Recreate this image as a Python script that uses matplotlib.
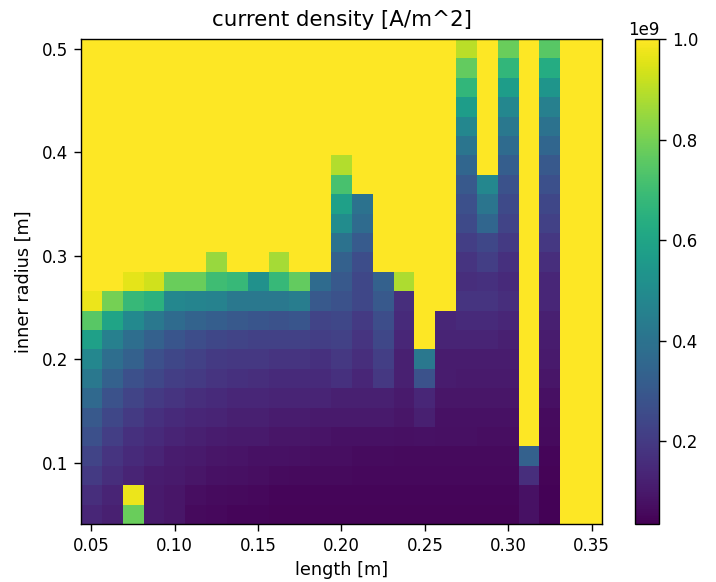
"""Current density over length and inner radius, drawn as a clipped heat map."""
import matplotlib
matplotlib.use("Agg")
import matplotlib.pyplot as plt
import numpy as np

Y = 1.0  # saturated cells

# one x per column, one y per row (top row first in density_rows)
lengths = [0.05 + 0.0125 * i for i in range(25)]
radii = [0.5 - 0.01875 * i for i in range(25)]

density_rows = [
    [Y, Y, Y, Y, Y, Y, Y, Y, Y, Y, Y, Y, Y, Y, Y, Y, Y, Y, .90, Y, .78, Y, .75, Y, Y],
    [Y, Y, Y, Y, Y, Y, Y, Y, Y, Y, Y, Y, Y, Y, Y, Y, Y, Y, .77, Y, .67, Y, .63, Y, Y],
    [Y, Y, Y, Y, Y, Y, Y, Y, Y, Y, Y, Y, Y, Y, Y, Y, Y, Y, .67, Y, .57, Y, .54, Y, Y],
    [Y, Y, Y, Y, Y, Y, Y, Y, Y, Y, Y, Y, Y, Y, Y, Y, Y, Y, .57, Y, .48, Y, .45, Y, Y],
    [Y, Y, Y, Y, Y, Y, Y, Y, Y, Y, Y, Y, Y, Y, Y, Y, Y, Y, .48, Y, .42, Y, .40, Y, Y],
    [Y, Y, Y, Y, Y, Y, Y, Y, Y, Y, Y, Y, Y, Y, Y, Y, Y, Y, .41, Y, .37, Y, .35, Y, Y],
    [Y, Y, Y, Y, Y, Y, Y, Y, Y, Y, Y, Y, .89, Y, Y, Y, Y, Y, .35, Y, .32, Y, .30, Y, Y],
    [Y, Y, Y, Y, Y, Y, Y, Y, Y, Y, Y, Y, .72, Y, Y, Y, Y, Y, .30, .48, .28, Y, .27, Y, Y],
    [Y, Y, Y, Y, Y, Y, Y, Y, Y, Y, Y, Y, .58, .40, Y, Y, Y, Y, .27, .41, .25, Y, .24, Y, Y],
    [Y, Y, Y, Y, Y, Y, Y, Y, Y, Y, Y, Y, .50, .37, Y, Y, Y, Y, .25, .35, .23, Y, .22, Y, Y],
    [Y, Y, Y, Y, Y, Y, Y, Y, Y, Y, Y, Y, .40, .31, Y, Y, Y, Y, .21, .24, .20, Y, .19, Y, Y],
    [Y, Y, Y, Y, Y, Y, .85, Y, Y, .87, Y, Y, .33, .26, Y, Y, Y, Y, .18, .21, .17, Y, .16, Y, Y],
    [Y, Y, .96, .93, .78, .78, .70, .68, .52, .68, .77, .37, .30, .24, .33, .88, Y, Y, .16, .17, .15, Y, .14, Y, Y],
    [.97, .80, .68, .65, .48, .47, .46, .42, .42, .42, .44, .30, .28, .24, .30, .16, Y, Y, .18, .18, .16, Y, .14, Y, Y],
    [.75, .60, .49, .42, .37, .34, .32, .30, .29, .28, .29, .23, .24, .20, .26, .15, Y, .14, .15, .15, .14, Y, .12, Y, Y],
    [.58, .45, .38, .33, .29, .26, .24, .23, .22, .22, .22, .21, .22, .18, .24, .14, Y, .13, .13, .13, .12, Y, .11, Y, Y],
    [.48, .38, .33, .27, .24, .22, .20, .19, .19, .18, .18, .17, .19, .16, .21, .12, .42, .11, .11, .11, .11, Y, .10, Y, Y],
    [.42, .33, .27, .24, .21, .20, .18, .17, .16, .15, .15, .15, .17, .14, .19, .12, .28, .11, .10, .10, .10, Y, .09, Y, Y],
    [.36, .28, .23, .20, .18, .16, .15, .14, .14, .13, .13, .13, .12, .12, .12, .10, .14, .09, .09, .09, .09, Y, .075, Y, Y],
    [.30, .24, .20, .17, .15, .14, .13, .12, .12, .11, .11, .10, .10, .10, .10, .09, .12, .08, .08, .08, .08, Y, .065, Y, Y],
    [.27, .21, .17, .15, .13, .12, .11, .10, .10, .09, .09, .085, .08, .08, .08, .075, .08, .075, .075, .07, .07, Y, .06, Y, Y],
    [.23, .18, .15, .13, .11, .10, .09, .085, .08, .08, .075, .07, .07, .065, .065, .06, .06, .06, .06, .06, .06, .33, .05, Y, Y],
    [.20, .16, .13, .11, .10, .09, .08, .075, .07, .065, .06, .06, .06, .055, .055, .055, .055, .055, .055, .055, .055, .16, .045, Y, Y],
    [.16, .13, .97, .10, .09, .07, .065, .06, .055, .05, .05, .05, .05, .05, .05, .05, .05, .05, .05, .05, .05, .08, .04, Y, Y],
    [.14, .12, .78, .10, .09, .06, .055, .05, .05, .045, .045, .045, .045, .045, .045, .045, .045, .045, .045, .045, .045, .08, .04, Y, Y],
]

x_ticks = [0.05, 0.10, 0.15, 0.20, 0.25, 0.30, 0.35]
y_ticks = [0.1, 0.2, 0.3, 0.4, 0.5]
cbar_ticks = [0.2e9, 0.4e9, 0.6e9, 0.8e9, 1.0e9]

W, H = 716, 582
plt.rcParams.update({
    "font.size": 12,
    "axes.linewidth": 1.0,
    "xtick.major.size": 5,
    "ytick.major.size": 5,
    "xtick.major.width": 1.0,
    "ytick.major.width": 1.0,
    "xtick.major.pad": 4.5,
    "ytick.major.pad": 4.5,
})
fig = plt.figure(figsize=(W / 100, H / 100), dpi=100)
ax = fig.add_axes([81 / W, 1 - 524 / H, 521 / W, 485 / H])
cax = fig.add_axes([635 / W, 1 - 524 / H, 24 / W, 485 / H])

density = np.array(density_rows) * 1e9
mesh = ax.pcolormesh(lengths, radii, density, shading="nearest", cmap="viridis",
                     vmin=0.035e9, vmax=1e9, antialiased=False, linewidth=0)
ax.set_xticks(x_ticks)
ax.set_xticklabels([f"{v:.2f}" for v in x_ticks])
ax.set_yticks(y_ticks)
ax.set_xlabel("length [m]", fontsize=12.7, labelpad=4.5)
ax.set_ylabel("inner radius [m]", fontsize=12.7, labelpad=6.5)
ax.set_title("current density [A/m^2]", fontsize=15.4, pad=9)

cbar = fig.colorbar(mesh, cax=cax)
cbar.set_ticks(cbar_ticks)

fig.savefig("out.png", dpi=100)
